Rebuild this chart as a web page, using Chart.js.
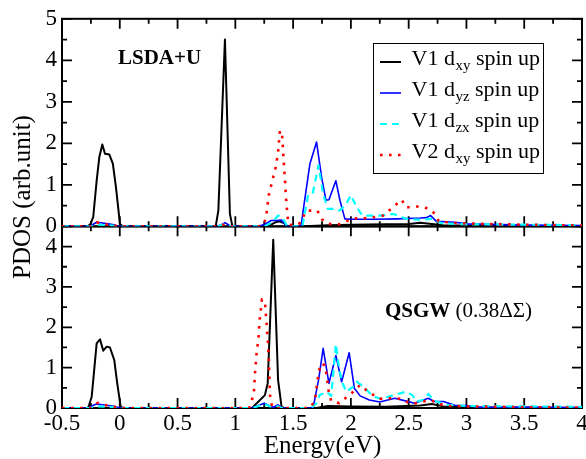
<!DOCTYPE html>
<html>
<head>
<meta charset="utf-8">
<script src="https://cdn.jsdelivr.net/npm/chart.js@4/dist/chart.umd.min.js"></script>
<style>
  html, body { margin: 0; padding: 0; background: #fff; }
  #wrap { position: relative; width: 586px; height: 459px; }
</style>
</head>
<body>
<div id="wrap"><canvas id="pdos" width="586" height="459"></canvas></div>
<script>
// ---- LSDA+U projected DOS (energy in eV, PDOS in arb. units) ----
const lsdaV1xyE = [-0.5, -0.28, -0.255, -0.23, -0.2, -0.177, -0.151, -0.128, -0.09, -0.06, -0.033, 0.002, 0.03, 0.83, 0.853, 0.91, 0.953, 0.975, 1.25, 1.3, 1.35, 1.38, 1.42, 1.45, 1.6, 1.8, 2.0, 2.3, 2.5, 2.6, 2.7, 2.8, 3.0, 3.5, 4.0];
const lsdaV1xyP = [0, 0, 0.05, 0.22, 1.1, 1.67, 1.97, 1.75, 1.73, 1.51, 0.94, 0.05, 0, 0, 0.38, 4.5, 0.3, 0, 0, 0.03, 0.1, 0.12, 0.08, 0, 0, 0.03, 0.04, 0.05, 0.06, 0.09, 0.06, 0.03, 0.02, 0.01, 0];

const lsdaV1yzE = [-0.5, -0.26, -0.23, -0.2, -0.15, -0.1, -0.05, -0.02, 0, 0.84, 0.88, 0.91, 0.94, 0.97, 1.2, 1.256, 1.31, 1.35, 1.4, 1.43, 1.455, 1.55, 1.57, 1.587, 1.645, 1.703, 1.746, 1.784, 1.81, 1.87, 1.905, 1.948, 2.0, 2.2, 2.4, 2.6, 2.655, 2.69, 2.74, 2.9, 3.0, 3.5, 4.0];
const lsdaV1yzP = [0, 0, 0.05, 0.1, 0.08, 0.06, 0.04, 0.01, 0, 0, 0.04, 0.09, 0.04, 0, 0, 0.05, 0.14, 0.14, 0.15, 0.05, 0, 0, 0.03, 0.38, 1.5, 2.03, 1.19, 0.63, 0.64, 1.1, 0.63, 0.18, 0.17, 0.17, 0.18, 0.2, 0.21, 0.26, 0.12, 0.1, 0.06, 0.03, 0.02];

const lsdaV1zxE = [-0.5, -0.25, -0.2, -0.1, 0, 0.85, 0.91, 0.96, 1.25, 1.32, 1.37, 1.41, 1.45, 1.58, 1.63, 1.67, 1.72, 1.76, 1.80, 1.875, 1.90, 1.95, 2.0, 2.05, 2.1, 2.25, 2.37, 2.48, 2.6, 2.7, 2.78, 2.9, 3.0, 3.5, 4.0];
const lsdaV1zxP = [0, 0, 0.04, 0.03, 0, 0, 0.06, 0, 0, 0.1, 0.26, 0.2, 0, 0, 0.76, 0.8, 1.47, 0.78, 0.42, 0.42, 0.38, 0.5, 0.75, 0.46, 0.26, 0.26, 0.3, 0.18, 0.16, 0.18, 0.08, 0.06, 0.05, 0.04, 0.03];

const lsdaV2xyE = [-0.5, -0.25, -0.2, -0.15, -0.1, -0.05, 0, 0.85, 0.91, 0.96, 1.2, 1.25, 1.27, 1.29, 1.33, 1.35, 1.37, 1.386, 1.405, 1.42, 1.43, 1.44, 1.455, 1.47, 1.55, 1.617, 1.71, 1.75, 1.80, 1.9, 2.02, 2.15, 2.28, 2.38, 2.44, 2.48, 2.54, 2.6, 2.67, 2.73, 2.76, 2.84, 2.9, 3.0, 3.5, 4.0];
const lsdaV2xyP = [0, 0, 0.1, 0.06, 0.04, 0.02, 0, 0, 0.05, 0, 0, 0.05, 0.33, 0.76, 1.21, 1.43, 1.79, 2.31, 2.19, 1.5, 1.1, 0.63, 0.15, 0.03, 0.05, 0.38, 0.38, 0.17, 0.06, 0.05, 0.19, 0.2, 0.26, 0.5, 0.64, 0.45, 0.48, 0.48, 0.43, 0.3, 0.12, 0.1, 0.08, 0.07, 0.04, 0.02];

// ---- QSGW (0.38 ΔΣ) projected DOS ----
const qsgwV1xyE = [-0.5, -0.28, -0.27, -0.243, -0.2, -0.171, -0.143, -0.113, -0.085, -0.048, -0.022, 0.008, 0.03, 1.14, 1.155, 1.256, 1.28, 1.328, 1.37, 1.40, 1.42, 1.7, 1.8, 2.0, 2.3, 2.6, 2.7, 2.8, 3.0, 3.5, 4.0];
const qsgwV1xyP = [0, 0, 0.03, 0.28, 1.6, 1.70, 1.42, 1.52, 1.5, 1.19, 0.61, 0.03, 0, 0, 0.03, 0.32, 0.61, 4.17, 0.69, 0.03, 0, 0, 0.05, 0.04, 0.03, 0.06, 0.1, 0.04, 0.02, 0.01, 0];

const qsgwV1yzE = [-0.5, -0.27, -0.22, -0.2, -0.15, -0.1, -0.05, 0, 1.15, 1.2, 1.25, 1.3, 1.33, 1.37, 1.4, 1.65, 1.674, 1.72, 1.76, 1.81, 1.87, 1.92, 1.985, 2.03, 2.08, 2.16, 2.25, 2.38, 2.48, 2.55, 2.67, 2.72, 2.8, 2.9, 3.0, 3.1, 3.5, 4.0];
const qsgwV1yzP = [0, 0, 0.08, 0.1, 0.08, 0.06, 0.04, 0, 0, 0.06, 0.12, 0.05, 0.02, 0.08, 0, 0, 0.02, 0.69, 1.48, 0.61, 1.3, 0.65, 1.37, 0.49, 0.3, 0.2, 0.15, 0.24, 0.17, 0.12, 0.24, 0.16, 0.16, 0.07, 0.06, 0.02, 0.02, 0.01];

const qsgwV1zxE = [-0.5, -0.25, -0.2, -0.1, 0, 1.15, 1.2, 1.25, 1.3, 1.35, 1.4, 1.65, 1.7, 1.73, 1.79, 1.83, 1.87, 1.9, 1.93, 1.96, 2.02, 2.05, 2.1, 2.19, 2.26, 2.35, 2.47, 2.53, 2.57, 2.63, 2.67, 2.72, 2.83, 3.0, 3.5, 4.0];
const qsgwV1zxP = [0, 0, 0.04, 0.03, 0, 0, 0.05, 0.1, 0.04, 0.06, 0, 0, 0.1, 0.32, 0.4, 0.3, 1.58, 0.94, 0.6, 0.4, 0.53, 0.65, 0.55, 0.29, 0.23, 0.3, 0.4, 0.32, 0.16, 0.2, 0.35, 0.18, 0.08, 0.05, 0.04, 0.03];

const qsgwV2xyE = [-0.5, -0.25, -0.19, -0.15, -0.1, -0.05, 0, 1.12, 1.14, 1.16, 1.17, 1.184, 1.2, 1.21, 1.23, 1.256, 1.27, 1.28, 1.29, 1.30, 1.315, 1.33, 1.65, 1.69, 1.70, 1.72, 1.74, 1.775, 1.79, 1.81, 1.83, 1.9, 1.96, 2.02, 2.08, 2.13, 2.18, 2.25, 2.4, 2.53, 2.69, 2.76, 2.86, 3.0, 3.5, 4.0];
const qsgwV2xyP = [0, 0, 0.13, 0.08, 0.06, 0.03, 0, 0, 0.16, 0.37, 0.86, 1.35, 1.72, 2.17, 2.69, 2.63, 2.1, 1.72, 1.2, 0.32, 0.08, 0, 0, 0.2, 0.45, 0.86, 1.1, 1.06, 0.81, 0.36, 0.17, 0.12, 0.26, 0.4, 0.57, 0.45, 0.35, 0.23, 0.25, 0.1, 0.2, 0.1, 0.05, 0.04, 0.02, 0.01];

// ---- axis ranges and tick steps ----
const energyRange = [-0.5, 4];
const lsdaRange = [0, 5];
const qsgwRange = [0, 4.5];
const xMajorStep = 0.5, xMinorStep = 0.25;
const yMajorStep = 1, yMinorStep = 0.5;

// ---- texts ----
const xTitle = 'Energy(eV)';
const yTitle = 'PDOS (arb.unit)';
const lsdaTag = 'LSDA+U';
const qsgwTagBold = 'QSGW';
const qsgwTagRest = '(0.38ΔΣ)';
const legendRows = [
  { head: 'V1 d', sub: 'xy', tail: 'spin up' },
  { head: 'V1 d', sub: 'yz', tail: 'spin up' },
  { head: 'V1 d', sub: 'zx', tail: 'spin up' },
  { head: 'V2 d', sub: 'xy', tail: 'spin up' }
];

const SERIF = '"Liberation Serif", "Times New Roman", Times, serif';

// line styles for the four orbitals (same order as legendRows)
const styles = [
  { color: '#000000', width: 2,   dash: [],         order: 4 },
  { color: '#0000ff', width: 1.6, dash: [],         order: 3 },
  { color: '#00ffff', width: 2.2, dash: [7, 5],     order: 2 },
  { color: '#ff0000', width: 2.6, dash: [2.6, 6.4], order: 1 }
];

const zip = (xs, ys) => xs.map((x, i) => ({ x: x, y: ys[i] }));

const panels = [
  { axis: 'yTop', series: [[lsdaV1xyE, lsdaV1xyP], [lsdaV1yzE, lsdaV1yzP], [lsdaV1zxE, lsdaV1zxP], [lsdaV2xyE, lsdaV2xyP]] },
  { axis: 'yBot', series: [[qsgwV1xyE, qsgwV1xyP], [qsgwV1yzE, qsgwV1yzP], [qsgwV1zxE, qsgwV1zxP], [qsgwV2xyE, qsgwV2xyP]] }
];

const datasets = [];
panels.forEach(p => {
  p.series.forEach((s, i) => {
    const st = styles[i];
    datasets.push({
      label: legendRows[i].head + legendRows[i].sub + ' ' + legendRows[i].tail,
      data: zip(s[0], s[1]),
      yAxisID: p.axis,
      borderColor: st.color,
      backgroundColor: st.color,
      borderWidth: st.width,
      borderDash: st.dash,
      borderCapStyle: 'butt',
      borderJoinStyle: 'round',
      pointRadius: 0,
      pointHoverRadius: 0,
      tension: 0,
      fill: false,
      order: st.order
    });
  });
});

// panel frames with inward ticks on all four sides
const panelFrames = {
  id: 'panelFrames',
  beforeDatasetsDraw(chart) {
    const { ctx, chartArea, scales } = chart;
    const left = chartArea.left, right = chartArea.right;
    const xs = scales.x;
    ctx.save();
    ctx.strokeStyle = '#000';
    ctx.lineCap = 'butt';
    ['yTop', 'yBot'].forEach(id => {
      const ys = scales[id];
      const top = ys.top, bottom = ys.bottom;
      ctx.lineWidth = 1.8;
      ctx.beginPath();
      const nx = Math.round((xs.max - xs.min) / xMinorStep);
      for (let k = 0; k <= nx; k++) {
        const v = xs.min + k * xMinorStep;
        const r = v / xMajorStep;
        const len = Math.abs(r - Math.round(r)) < 1e-6 ? 10 : 5;
        const px = xs.getPixelForValue(v);
        ctx.moveTo(px, top); ctx.lineTo(px, top + len);
        ctx.moveTo(px, bottom); ctx.lineTo(px, bottom - len);
      }
      const ny = Math.round((ys.max - ys.min) / yMinorStep);
      for (let k = 0; k <= ny; k++) {
        const v = ys.min + k * yMinorStep;
        const r = v / yMajorStep;
        const len = Math.abs(r - Math.round(r)) < 1e-6 ? 10 : 5;
        const py = ys.getPixelForValue(v);
        ctx.moveTo(left, py); ctx.lineTo(left + len, py);
        ctx.moveTo(right, py); ctx.lineTo(right - len, py);
      }
      ctx.stroke();
      ctx.lineWidth = 2;
      ctx.strokeRect(left, top, right - left, bottom - top);
    });
    ctx.restore();
  }
};

// titles, panel tags and the legend box
const annotations = {
  id: 'annotations',
  afterDraw(chart) {
    const { ctx, chartArea, scales } = chart;
    const L = chartArea.left, R = chartArea.right;
    const topA = scales.yTop, botA = scales.yBot;
    ctx.save();
    ctx.fillStyle = '#000';

    // axis titles
    ctx.font = '25px ' + SERIF;
    ctx.textAlign = 'center';
    ctx.textBaseline = 'alphabetic';
    ctx.fillText(xTitle, (L + R) / 2 + 0.5, 453);
    ctx.save();
    ctx.translate(29.5, 197);
    ctx.rotate(-Math.PI / 2);
    ctx.fillText(yTitle, 0, 0);
    ctx.restore();

    // panel tags
    ctx.textAlign = 'left';
    ctx.font = 'bold 21px ' + SERIF;
    ctx.fillText(lsdaTag, 118, topA.top + 45);
    ctx.fillText(qsgwTagBold, 385, botA.top + 91);
    const wq = ctx.measureText(qsgwTagBold + ' ').width;
    ctx.font = '21px ' + SERIF;
    ctx.fillText(qsgwTagRest, 385 + wq, botA.top + 91);

    // legend
    const bx = 373.5, by = 43.5, bw = 170, bh = 130;
    ctx.fillStyle = '#fff';
    ctx.fillRect(bx, by, bw, bh);
    ctx.strokeStyle = '#000';
    ctx.lineWidth = 1;
    ctx.strokeRect(bx, by, bw, bh);
    legendRows.forEach((row, i) => {
      const base = 65 + i * 31;
      const st = styles[i];
      ctx.save();
      ctx.strokeStyle = st.color;
      ctx.lineWidth = st.width;
      ctx.setLineDash(st.dash);
      ctx.beginPath();
      ctx.moveTo(380, base - 3);
      ctx.lineTo(401, base - 3);
      ctx.stroke();
      ctx.restore();
      ctx.fillStyle = '#000';
      let x = 411.5;
      ctx.font = '22px ' + SERIF;
      ctx.fillText(row.head, x, base);
      x += ctx.measureText(row.head).width;
      ctx.font = '15px ' + SERIF;
      ctx.fillText(row.sub, x + 0.5, base + 5);
      x += ctx.measureText(row.sub).width + 0.5;
      ctx.font = '22px ' + SERIF;
      x += ctx.measureText(' ').width;
      ctx.fillText(row.tail, x, base);
    });
    ctx.restore();
  }
};

const tickFont = { family: SERIF, size: 23 };
const intLabel = v => (Math.abs(v - Math.round(v)) < 1e-6 ? String(Math.round(v)) : '');

new Chart(document.getElementById('pdos'), {
  type: 'line',
  data: { datasets: datasets },
  options: {
    responsive: false,
    animation: false,
    events: [],
    layout: { padding: { top: 18, right: 4, left: 0, bottom: 0 } },
    plugins: { legend: { display: false }, tooltip: { enabled: false }, title: { display: false } },
    scales: {
      x: {
        type: 'linear',
        position: 'bottom',
        min: energyRange[0],
        max: energyRange[1],
        grid: { display: false, drawTicks: false },
        border: { display: false },
        ticks: {
          stepSize: xMajorStep,
          autoSkip: false,
          maxRotation: 0,
          padding: 2,
          color: '#000',
          font: tickFont,
          callback: v => String(Math.round(v * 100) / 100)
        },
        afterFit(s) { s.height = 51; s.paddingLeft = 0; s.paddingRight = 0; }
      },
      yBot: {
        type: 'linear',
        position: 'left',
        stack: 'pdos',
        stackWeight: 182,
        min: qsgwRange[0],
        max: qsgwRange[1],
        grid: { display: false, drawTicks: false },
        border: { display: false },
        ticks: { stepSize: yMajorStep, includeBounds: false, autoSkip: false, padding: 5, color: '#000', font: tickFont, callback: intLabel },
        afterFit(s) { s.width = 62; }
      },
      yTop: {
        type: 'linear',
        position: 'left',
        stack: 'pdos',
        stackWeight: 208,
        min: lsdaRange[0],
        max: lsdaRange[1],
        grid: { display: false, drawTicks: false },
        border: { display: false },
        ticks: { stepSize: yMajorStep, autoSkip: false, padding: 5, color: '#000', font: tickFont, callback: intLabel },
        afterFit(s) { s.width = 62; }
      }
    }
  },
  plugins: [panelFrames, annotations]
});
</script>
</body>
</html>
